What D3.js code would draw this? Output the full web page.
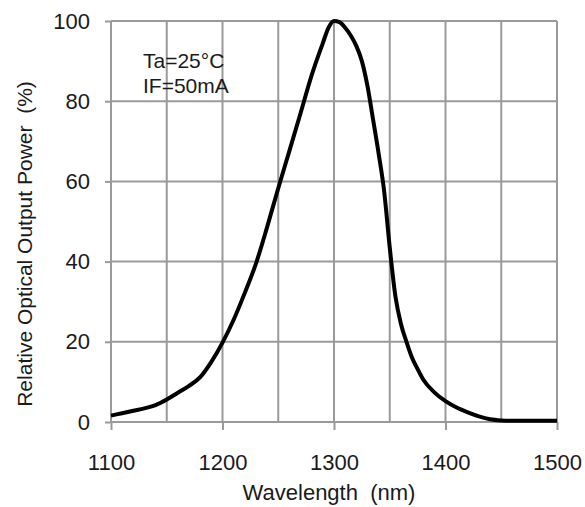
<!DOCTYPE html>
<html>
<head>
<meta charset="utf-8">
<script src="https://cdn.jsdelivr.net/npm/d3@7"></script>
<style>
	body { margin: 0; background: #fff; }
	svg { display: block; font-family: "Liberation Sans", Arial, sans-serif; }
</style>
</head>
<body>
<script>
// wavelength (nm) and relative optical output power (%)
const wavelength = [1100, 1110, 1120, 1130, 1140, 1150, 1160, 1170, 1180, 1190,
	1200, 1210, 1220, 1230, 1240, 1250, 1260, 1270, 1280, 1290, 1295,
	1300, 1305, 1310, 1315, 1320, 1325, 1330, 1335, 1340, 1345, 1350,
	1355, 1360, 1365, 1370, 1375, 1380, 1390, 1400, 1410, 1420, 1430,
	1440, 1450, 1460, 1480, 1500];
const power = [1.6, 2.2, 2.8, 3.4, 4.2, 5.6, 7.3, 9.0, 11.2, 15.0,
	19.8, 25.5, 32.2, 39.5, 48.6, 58.3, 67.6, 77, 86.5, 94.5, 98.3,
	100, 99.7, 98.3, 96.4, 93.8, 90, 83.8, 75.5, 67, 57.5, 43.5,
	31.5, 24.5, 20, 16, 13.2, 10.6, 7.4, 5.2, 3.6, 2.4, 1.4,
	0.7, 0.4, 0.3, 0.3, 0.3];

const xTicks = [1100, 1200, 1300, 1400, 1500];
const xGrid = [1100, 1150, 1200, 1250, 1300, 1350, 1400, 1450, 1500];
const yTicks = [0, 20, 40, 60, 80, 100];
const notes = ['Ta=25°C', 'IF=50mA'];

const data = wavelength.map((w, i) => ({w: w, p: power[i]}));

const margin = {top: 21, right: 28, bottom: 85, left: 111};
const W = 585, H = 507;
const width = W - margin.left - margin.right;
const height = H - margin.top - margin.bottom;

const svg = d3.select('body').append('svg')
	.attr('width', W)
	.attr('height', H);

const g = svg.append('g')
	.attr('transform', `translate(${margin.left},${margin.top})`);

const x = d3.scaleLinear().domain([1100, 1500]).range([0, width]);
const y = d3.scaleLinear().domain([0, 100]).range([height, 0]);

// grid
g.append('g')
	.selectAll('line')
	.data(xGrid)
	.join('line')
	.attr('x1', d => x(d)).attr('x2', d => x(d))
	.attr('y1', 0).attr('y2', height)
	.attr('stroke', '#9a9a9a')
	.attr('stroke-width', 2);

g.append('g')
	.selectAll('line')
	.data(yTicks)
	.join('line')
	.attr('x1', 0).attr('x2', width)
	.attr('y1', d => y(d)).attr('y2', d => y(d))
	.attr('stroke', '#9a9a9a')
	.attr('stroke-width', 2);

// axes
const xAxis = d3.axisBottom(x).tickValues(xTicks).tickFormat(d3.format('d'))
	.tickSize(8).tickPadding(24).tickSizeOuter(0);
const yAxis = d3.axisLeft(y).tickValues(yTicks).tickFormat(d3.format('d'))
	.tickSize(6).tickPadding(15).tickSizeOuter(0);

g.append('g')
	.attr('transform', `translate(0,${height})`)
	.call(xAxis)
	.call(a => a.select('.domain').remove())
	.call(a => a.selectAll('.tick line').attr('stroke', '#9a9a9a').attr('stroke-width', 2))
	.call(a => a.selectAll('.tick text')
		.attr('font-size', 22)
		.attr('font-family', '"Liberation Sans", Arial, sans-serif')
		.attr('fill', '#1a1a1a'));

g.append('g')
	.call(yAxis)
	.call(a => a.select('.domain').remove())
	.call(a => a.selectAll('.tick line').attr('stroke', '#9a9a9a').attr('stroke-width', 2))
	.call(a => a.selectAll('.tick text')
		.attr('font-size', 22)
		.attr('font-family', '"Liberation Sans", Arial, sans-serif')
		.attr('fill', '#1a1a1a'));

// curve
const line = d3.line()
	.x(d => x(d.w))
	.y(d => y(d.p))
	.curve(d3.curveMonotoneX);

g.append('path')
	.datum(data)
	.attr('fill', 'none')
	.attr('stroke', '#000')
	.attr('stroke-width', 4)
	.attr('stroke-linejoin', 'round')
	.attr('d', line);

// conditions
g.append('g')
	.selectAll('text')
	.data(notes)
	.join('text')
	.attr('x', 32)
	.attr('y', (d, i) => 47 + i * 25)
	.attr('font-size', 21)
	.attr('fill', '#1a1a1a')
	.text(d => d);

// titles
svg.append('text')
	.attr('x', margin.left + width / 2 - 5)
	.attr('y', 500)
	.attr('text-anchor', 'middle')
	.attr('font-size', 22)
	.attr('fill', '#1a1a1a')
	.attr('xml:space', 'preserve')
	.text('Wavelength  (nm)');

svg.append('text')
	.attr('transform', 'translate(32,244) rotate(-90)')
	.attr('text-anchor', 'middle')
	.attr('font-size', 21)
	.attr('fill', '#1a1a1a')
	.attr('xml:space', 'preserve')
	.text('Relative Optical Output Power  (%)');
</script>
</body>
</html>
